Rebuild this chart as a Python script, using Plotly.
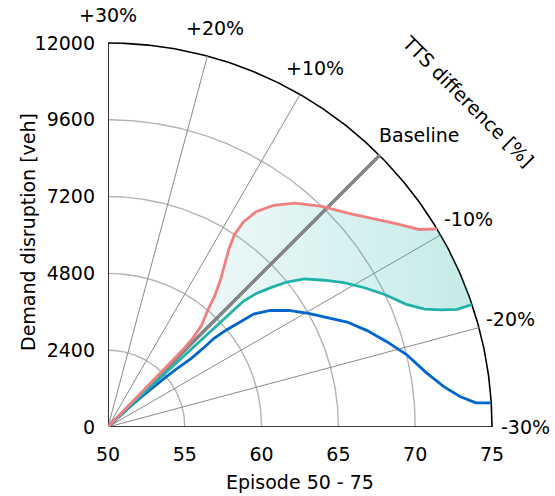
import numpy as np
import plotly.graph_objects as go

# ---------------- data ----------------
EPISODES = list(range(50, 76))
TTS_RED = [0.0, 0.5, 0.5, 0.5, 0.5, 0.5, 0.5, 0.6, 0.9, 1.6, 3.0, 3.9, 5.0,
           6.2, 7.2, 7.8, 7.7, 7.0, 5.5, 3.4, 0.6, -2.4, -4.6, -6.6, -8.4, -9.3]
TTS_TEAL = [0.0, -0.6, -0.8, -1.0, -1.1, -1.2, -1.3, -1.4, -1.5, -1.5, -1.5, -1.4, -1.4,
            -2.0, -3.0, -4.0, -5.3, -7.2, -9.0, -11.0, -13.0, -15.1, -16.4, -17.1, -17.6, -17.6]
TTS_BLUE = [0.0, -1.0, -1.5, -2.0, -2.4, -2.8, -3.2, -3.7, -3.6, -3.4, -3.8, -4.3, -4.8,
            -6.2, -8.1, -10.3, -12.4, -14.2, -16.4, -18.7, -20.9, -23.5, -25.4, -26.7, -27.5, -27.6]

EPISODE_TICKS = [50, 55, 60, 65, 70, 75]
DEMAND_TICKS = [0, 2400, 4800, 7200, 9600, 12000]
TTS_TICKS = [30, 20, 10, 0, -10, -20, -30]
TTS_TICK_LABELS = ["+30%", "+20%", "+10%", "Baseline", "-10%", "-20%", "-30%"]
RING_EPISODES = [55, 60, 65, 70, 75]

# ---------------- geometry helpers ----------------
R0, R1 = EPISODES[0], EPISODES[-1]
YMAX = DEMAND_TICKS[-1]
VEH_PER_EP = YMAX / (R1 - R0)
PX_PER_EP = 15.36


def to_xy(ep, tts):
    ep = np.asarray(ep, dtype=float)
    tts = np.asarray(tts, dtype=float)
    th = np.radians(45.0 + 1.5 * tts)
    rr = ep - R0
    return R0 + rr * np.cos(th), rr * np.sin(th) * VEH_PER_EP


FONT = "DejaVu Sans"
fig = go.Figure()

# rings
for r in RING_EPISODES:
    tt = np.linspace(-30, 30, 181)
    x, y = to_xy(np.full_like(tt, r), tt)
    outer = (r == R1)
    fig.add_trace(go.Scatter(x=x, y=y, mode="lines", hoverinfo="skip",
                             line=dict(color="black" if outer else "#b3b3b3",
                                       width=1.6 if outer else 1.4)))

# radial lines
for t in TTS_TICKS:
    x, y = to_xy([R0, R1], [t, t])
    if abs(t) == 30:
        col, w = "black", 1.6
    elif t == 0:
        col, w = "#858585", 3.2
    else:
        col, w = "#8a8a8a", 1.0
    fig.add_trace(go.Scatter(x=x, y=y, mode="lines", hoverinfo="skip",
                             line=dict(color=col, width=w)))

# filled band between red and teal
xr, yr = to_xy(EPISODES, TTS_RED)
xt, yt = to_xy(EPISODES, TTS_TEAL)
arc_t = np.linspace(TTS_RED[-1], TTS_TEAL[-1], 12)
xa, ya = to_xy(np.full_like(arc_t, R1), arc_t)
fx = np.concatenate([xr, xa, xt[::-1]])
fy = np.concatenate([yr, ya, yt[::-1]])
fig.add_trace(go.Scatter(
    x=fx, y=fy, mode="lines", fill="toself", hoverinfo="skip",
    line=dict(width=0, color="rgba(0,0,0,0)"),
    fillgradient=dict(type="horizontal",
                      colorscale=[[0, "rgba(32,178,170,0.02)"],
                                  [1, "rgba(32,178,170,0.26)"]])))

# redraw baseline on top of fill
x0, y0 = to_xy([R0, R1], [0, 0])
fig.add_trace(go.Scatter(x=x0, y=y0, mode="lines", hoverinfo="skip",
                         line=dict(color="#858585", width=3.2)))

# curves
for tts, col in [(TTS_BLUE, "#0066cc"), (TTS_TEAL, "#20b2aa"), (TTS_RED, "#f08080")]:
    x, y = to_xy(EPISODES, tts)
    fig.add_trace(go.Scatter(x=x, y=y, mode="lines", hoverinfo="skip",
                             line=dict(color=col, width=2.8)))

# angular labels
annotations = []
for t, lab in zip(TTS_TICKS, TTS_TICK_LABELS):
    x, y = to_xy(R1, t)
    th = np.radians(45.0 + 1.5 * t)
    if lab == "Baseline":
        annotations.append(dict(x=float(x), y=float(y), text=lab, showarrow=False,
                                xanchor="left", yanchor="middle", xshift=-3, yshift=20,
                                font=dict(family=FONT, size=19, color="black")))
    else:
        d = 28 + 5 * np.cos(th)
        annotations.append(dict(x=float(x), y=float(y), text=lab, showarrow=False,
                                xanchor="center", yanchor="middle",
                                xshift=float(d * np.cos(th)), yshift=float(d * np.sin(th)),
                                font=dict(family=FONT, size=19, color="black")))

annotations.append(dict(x=R0 + (468 - 108) / PX_PER_EP, y=(427 - 101) / PX_PER_EP * VEH_PER_EP,
                        text="TTS difference [%]", showarrow=False, textangle=45,
                        xanchor="center", yanchor="middle",
                        font=dict(family=FONT, size=19, color="black")))

PLOT_PX = 387
# axis titles placed as in the reference
annotations.append(dict(xref="paper", yref="paper", x=(28 - 108) / PLOT_PX, y=(427 - 232) / PLOT_PX,
                        text="Demand disruption [veh]", showarrow=False, textangle=-90,
                        xanchor="center", yanchor="middle",
                        font=dict(family=FONT, size=19, color="black")))
annotations.append(dict(xref="paper", yref="paper", x=(300 - 108) / PLOT_PX, y=(427 - 482) / PLOT_PX,
                        text="Episode 50 - 75", showarrow=False,
                        xanchor="center", yanchor="middle",
                        font=dict(family=FONT, size=19, color="black")))

xmax = R1 + 3 / PX_PER_EP
ymax = YMAX * (1 + 3 / (PX_PER_EP * (R1 - R0)))

fig.update_layout(
    width=555, height=496,
    margin=dict(l=108, r=60, t=40, b=69),
    paper_bgcolor="white", plot_bgcolor="white",
    showlegend=False,
    font=dict(family=FONT, size=19, color="black"),
    annotations=annotations,
    xaxis=dict(range=[R0, xmax], tickvals=EPISODE_TICKS, showgrid=False, zeroline=False,
               showline=False, ticks="", ticklabelstandoff=14, automargin=False),
    yaxis=dict(range=[0, ymax], tickvals=DEMAND_TICKS, tickformat="d",
               showgrid=False, zeroline=False, automargin=False,
               showline=False, ticks="", ticklabelstandoff=12),
)

fig.write_html("out.html")
